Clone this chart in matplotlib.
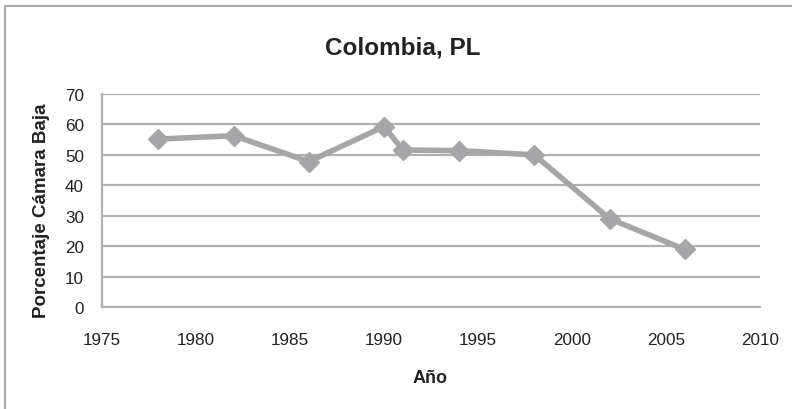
import matplotlib
matplotlib.use("Agg")
import matplotlib.pyplot as plt
from matplotlib.patches import Rectangle

years = [1978, 1982, 1986, 1990, 1991, 1994, 1998, 2002, 2006]
pct = [55.2, 56.3, 47.8, 59.3, 51.6, 51.4, 50.0, 29.0, 18.9]
x_ticks = [1975, 1980, 1985, 1990, 1995, 2000, 2005, 2010]
y_ticks = [0, 10, 20, 30, 40, 50, 60, 70]
title = "Colombia, PL"
xlabel = "Año"
ylabel = "Porcentaje Cámara Baja"

plt.rcParams['font.family'] = ['Liberation Sans', 'DejaVu Sans']

W, H = 792, 410
fig = plt.figure(figsize=(W / 100, H / 100), dpi=100)
fig.patch.set_facecolor('white')

def fx(px):
    return px / W

def fy(py):
    return 1 - py / H

# outer chart frame
fig.patches.append(Rectangle((fx(5), fy(H + 10)), fx(W + 10), fy(7) - fy(H + 10),
                             transform=fig.transFigure, fill=False,
                             edgecolor='#a8a8a8', linewidth=1.5))

ax = fig.add_axes([fx(102), fy(308), fx(760) - fx(102), fy(95) - fy(308)])
ax.set_xlim(1975, 2010)
ax.set_ylim(0, 70)
ax.set_xticks(x_ticks)
ax.set_yticks(y_ticks)
ax.set_xticklabels([str(t) for t in x_ticks])
ax.set_yticklabels([str(t) for t in y_ticks])
ax.tick_params(axis='both', length=0, labelsize=12.3, colors='#222222')
ax.tick_params(axis='x', pad=18)
ax.tick_params(axis='y', pad=13)

ax.grid(axis='y', color='#b0b0b2', linewidth=1.6)
ax.set_axisbelow(True)
for s in ['top', 'right']:
    ax.spines[s].set_visible(False)
ax.spines['left'].set_color('#b0b0b2')
ax.spines['left'].set_linewidth(1.6)
ax.spines['bottom'].set_color('#b0b0b2')
ax.spines['bottom'].set_linewidth(1.6)

ax.plot(years, pct, color='#a6a6a8', linewidth=4, marker='D', markersize=10,
        markerfacecolor='#a6a6a8', markeredgecolor='#a6a6a8', clip_on=False, zorder=3)

fig.text(fx(403), fy(48), title, ha='center', va='center', fontsize=17.5,
         fontweight='bold', color='#222222')
fig.text(fx(430), fy(379), xlabel, ha='center', va='center', fontsize=13,
         fontweight='bold', color='#222222')
fig.text(fx(42), fy(211), ylabel, ha='center', va='center', fontsize=13.5,
         fontweight='bold', color='#222222', rotation=90)

fig.savefig('out.png', dpi=100)
